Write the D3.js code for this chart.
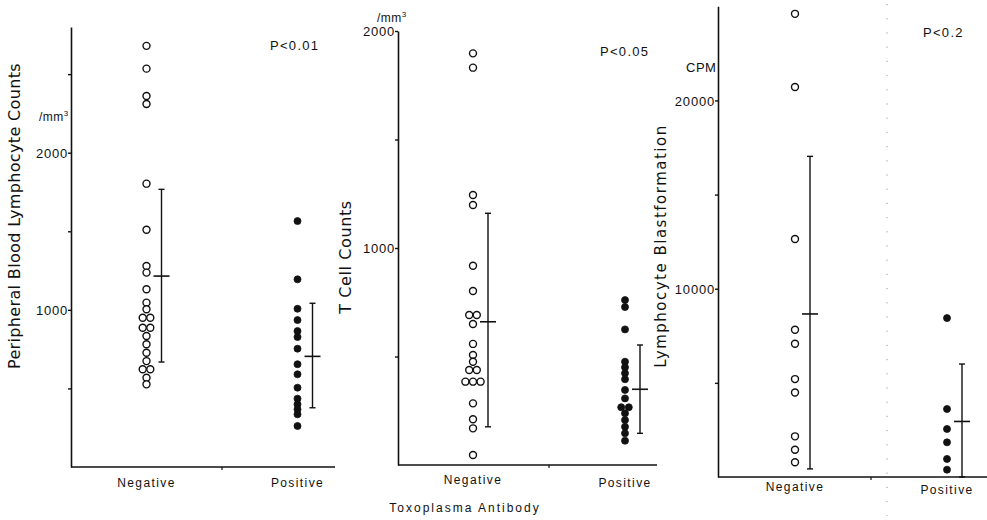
<!DOCTYPE html>
<html>
<head>
<meta charset="utf-8">
<script src="https://cdn.jsdelivr.net/npm/d3@7/dist/d3.min.js"></script>
<style>
  html, body { margin: 0; padding: 0; background: #fff; }
  svg { display: block; }
  .tick text { font-family: "Liberation Sans", Arial, sans-serif; font-size: 13px; letter-spacing: 0.8px; fill: #111; }
  .lbl { font-family: "Liberation Sans", Arial, sans-serif; fill: #111; }
  .title { font-family: "DejaVu Sans", sans-serif; fill: #111; }
</style>
</head>
<body>
<script>
// Antibody groups
const groups = ["Negative", "Positive"];

// Peripheral blood lymphocyte counts (/mm3)
const lymphNeg = [2680, 2535, 2361, 2310, 1803, 1510, 1279, 1237, 1131, 1046, 1004, 950, 950, 886, 886, 834, 781, 727, 674, 622, 622, 568, 526];
const lymphPos = [1565, 1194, 1007, 935, 865, 827, 753, 654, 590, 505, 435, 399, 367, 335, 261];
const lymphMean = [1215, 704];
const lymphLow = [668, 377];
const lymphHigh = [1767, 1042];
const lymphTicks = [500, 1000, 1500, 2000, 2500];
const lymphLabels = [1000, 2000];

// T cell counts (/mm3)
const tcellNeg = [1897, 1831, 1244, 1198, 918, 802, 691, 691, 650, 558, 507, 476, 438, 438, 384, 384, 384, 284, 211, 169, 46];
const tcellPos = [760, 728, 625, 476, 450, 423, 395, 346, 307, 266, 266, 238, 207, 176, 146, 112];
const tcellMean = [660, 349];
const tcellLow = [176, 146];
const tcellHigh = [1160, 553];
const tcellTicks = [500, 1000, 1500, 2000];
const tcellLabels = [1000, 2000];

// Lymphocyte blastformation (CPM)
const blastNeg = [24600, 20710, 12640, 7820, 7080, 5200, 4490, 2160, 1450, 780];
const blastPos = [8440, 3610, 2550, 1840, 960, 390];
const blastMean = [8660, 2950];
const blastLow = [430, 0];
const blastHigh = [17030, 6000];
const blastTicks = [5000, 10000, 15000, 20000];
const blastLabels = [10000, 20000];

const pValues = ["P<0.01", "P<0.05", "P<0.2"];

const W = 987, H = 520;
const svg = d3.select("body").append("svg").attr("width", W).attr("height", H);

// faint dotted line crossing the right panel
svg.append("line")
  .attr("x1", 887).attr("x2", 887).attr("y1", 4).attr("y2", 516)
  .attr("stroke", "#9a9a9a").attr("stroke-width", 1).attr("stroke-dasharray", "1.2,13");

const panels = [
  { neg: lymphNeg, pos: lymphPos, mean: lymphMean, low: lymphLow, high: lymphHigh,
    ticks: lymphTicks, labels: lymphLabels, domain: [0, 2800], yRange: [467, 27],
    axisX: 71, xRange: [71, 373], xEnd: 335, labOff: [20, 20],
    title: "Peripheral Blood Lymphocyte Counts", titleX: 20, titleY: 216, titleSize: 16, titleSpacing: 0.35,
    unit: "/mm", unitX: 39, unitY: 121, p: pValues[0], pX: 270, pY: 50 },
  { neg: tcellNeg, pos: tcellPos, mean: tcellMean, low: tcellLow, high: tcellHigh,
    ticks: tcellTicks, labels: tcellLabels, domain: [0, 2000], yRange: [465, 31],
    axisX: 398, xRange: [397, 701], xEnd: 657, labOff: [19, 22],
    title: "T Cell Counts", titleX: 351, titleY: 257, titleSize: 16, titleSpacing: 0.6,
    unit: "/mm", unitX: 377, unitY: 22, p: pValues[1], pX: 600, pY: 56 },
  { neg: blastNeg, pos: blastPos, mean: blastMean, low: blastLow, high: blastHigh,
    ticks: blastTicks, labels: blastLabels, domain: [0, 25000], yRange: [477, 6.3],
    axisX: 718, xRange: [719, 1023], xEnd: 987, labOff: [14, 17],
    title: "Lymphocyte Blastformation", titleX: 666, titleY: 246, titleSize: 15, titleSpacing: 1.5,
    unit: "CPM", unitX: 686, unitY: 72, p: pValues[2], pX: 923, pY: 37 }
];

// spread identical values side by side
function spread(values) {
  const count = d3.rollup(values, v => v.length, d => d);
  const seen = new Map();
  return values.map(v => {
    const n = count.get(v);
    const k = seen.get(v) || 0;
    seen.set(v, k + 1);
    return { v, dx: (k - (n - 1) / 2) * 7.6 };
  });
}

panels.forEach(p => {
  const y = d3.scaleLinear().domain(p.domain).range(p.yRange);
  const x = d3.scalePoint().domain(groups).range(p.xRange).padding(0.5);
  const g = svg.append("g");

  // y axis
  const yAxis = d3.axisLeft(y)
    .tickValues(p.ticks)
    .tickSize(3)
    .tickSizeOuter(0)
    .tickPadding(0)
    .tickFormat(d => p.labels.includes(d) ? String(d) : "");
  const ya = g.append("g").attr("transform", `translate(${p.axisX},0)`).call(yAxis);
  ya.select(".domain").attr("stroke", "#111").attr("stroke-width", 1.6);
  ya.selectAll(".tick line").attr("stroke", "#111").attr("stroke-width", 1.4);
  ya.selectAll(".tick text").attr("dy", "0.35em");

  // x axis baseline with centre tick
  const base = y(0);
  g.append("line").attr("x1", p.axisX).attr("x2", p.xEnd).attr("y1", base).attr("y2", base)
    .attr("stroke", "#111").attr("stroke-width", 1.6);
  const mid = (x(groups[0]) + x(groups[1])) / 2;
  g.append("line").attr("x1", mid).attr("x2", mid).attr("y1", base).attr("y2", base + 3)
    .attr("stroke", "#111").attr("stroke-width", 1.2);

  groups.forEach((grp, i) => {
    g.append("text").attr("class", "lbl")
      .attr("x", x(grp)).attr("y", base + p.labOff[i])
      .attr("text-anchor", "middle").attr("font-size", 12).attr("letter-spacing", 1.4)
      .text(grp);
  });

  // dots
  const cols = [p.neg, p.pos];
  cols.forEach((vals, i) => {
    const cx = x(groups[i]);
    g.selectAll(null).data(spread(vals)).enter().append("circle")
      .attr("cx", d => cx + d.dx)
      .attr("cy", d => y(d.v))
      .attr("r", i === 0 ? 3.5 : 3.5)
      .attr("fill", i === 0 ? "#fff" : "#111")
      .attr("stroke", "#111")
      .attr("stroke-width", i === 0 ? 1.4 : 0.8);

    // mean ± SD
    const ex = cx + 15;
    g.append("line").attr("x1", ex).attr("x2", ex)
      .attr("y1", y(p.high[i])).attr("y2", y(p.low[i]))
      .attr("stroke", "#111").attr("stroke-width", 1.4);
    [p.high[i], p.low[i]].forEach(v => {
      g.append("line").attr("x1", ex - 3).attr("x2", ex + 3)
        .attr("y1", y(v)).attr("y2", y(v))
        .attr("stroke", "#111").attr("stroke-width", 1.4);
    });
    g.append("line").attr("x1", ex - 8).attr("x2", ex + 8)
      .attr("y1", y(p.mean[i])).attr("y2", y(p.mean[i]))
      .attr("stroke", "#111").attr("stroke-width", 1.6);
  });

  // axis title
  g.append("text").attr("class", "title")
    .attr("transform", `translate(${p.titleX},${p.titleY}) rotate(-90)`)
    .attr("text-anchor", "middle").attr("font-size", p.titleSize)
    .attr("letter-spacing", p.titleSpacing)
    .text(p.title);

  // unit
  const u = g.append("text").attr("class", "lbl")
    .attr("x", p.unitX).attr("y", p.unitY).attr("font-size", 12).attr("letter-spacing", 0.5);
  if (p.unit === "CPM") {
    u.attr("font-size", 13).text(p.unit);
  } else {
    u.text(p.unit);
    u.append("tspan").attr("dy", -5).attr("font-size", 8).text("3");
  }

  // significance
  g.append("text").attr("class", "lbl")
    .attr("x", p.pX).attr("y", p.pY).attr("font-size", 13).attr("letter-spacing", 1.3)
    .text(p.p);
});

// shared x-axis title
svg.append("text").attr("class", "lbl")
  .attr("x", 465).attr("y", 512).attr("text-anchor", "middle")
  .attr("font-size", 12).attr("letter-spacing", 2)
  .text("Toxoplasma Antibody");
</script>
</body>
</html>
